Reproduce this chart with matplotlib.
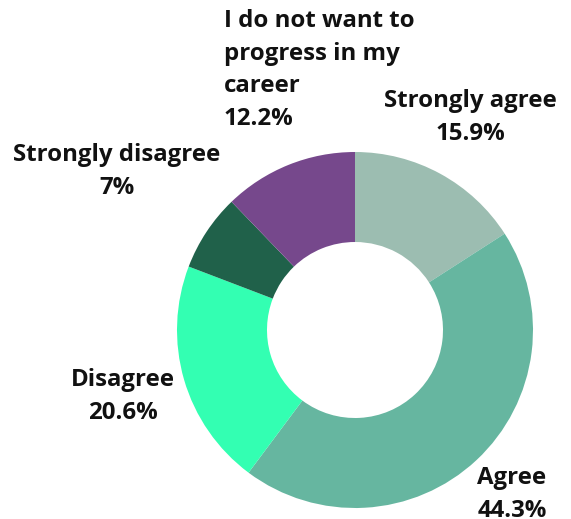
"""Donut chart of career progression attitudes."""

import matplotlib.pyplot as plt

categories = [
    "Strongly agree",
    "Agree",
    "Disagree",
    "Strongly disagree",
    "I do not want to\nprogress in my\ncareer",
]
shares = [15.9, 44.3, 20.6, 7.0, 12.2]
share_labels = ["15.9%", "44.3%", "20.6%", "7%", "12.2%"]
colors = ["#9cbdb1", "#66b6a0", "#33ffb2", "#20614a", "#76488c"]

# label anchor (x, y, ha) in canvas units, y measured from the bottom
label_pos = [
    (470, 430, "center"),
    (512, 53, "center"),
    (123, 151, "center"),
    (117, 376, "center"),
    (224, 510, "left"),
]

W, H = 571, 519

fig = plt.figure(figsize=(W / 100, H / 100), dpi=100)
ax = fig.add_axes([0, 0, 1, 1])

ax.pie(
    shares,
    colors=colors,
    startangle=90,
    counterclock=False,
    radius=178,
    center=(355, 189),
    wedgeprops=dict(width=90, linewidth=0),
)

for name, pct, (x, y, ha) in zip(categories, share_labels, label_pos):
    ax.text(
        x,
        y,
        f"{name}\n{pct}",
        ha=ha,
        va="top",
        fontsize=17.3,
        fontweight="bold",
        family="Open Sans",
        linespacing=1.48,
        color="#111111",
    )

ax.set_xlim(0, W)
ax.set_ylim(0, H)
ax.set_aspect("equal")
ax.axis("off")

plt.savefig("out.png", dpi=100)
plt.close()
